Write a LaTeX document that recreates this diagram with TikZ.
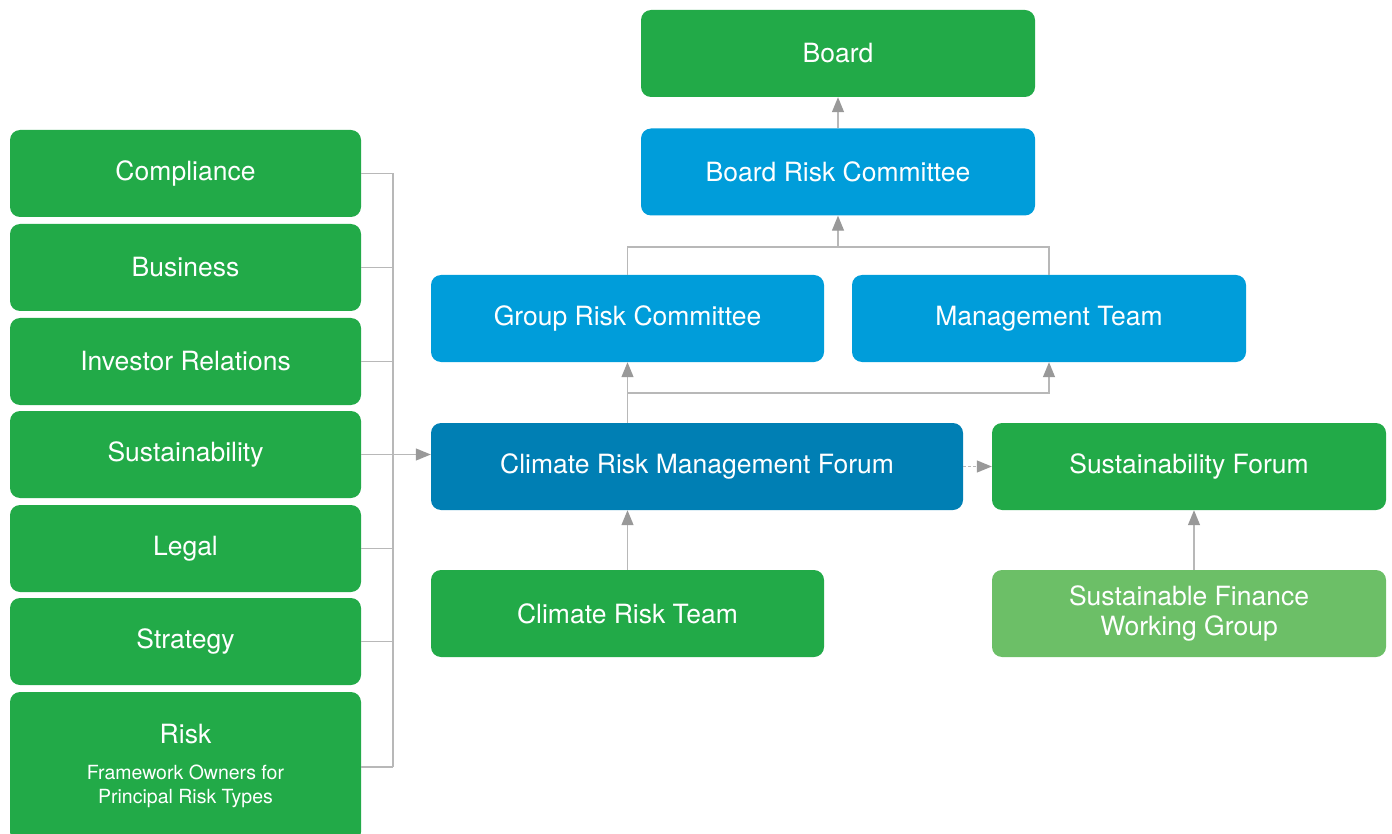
\documentclass[tikz,border=0pt]{standalone}
\usepackage{fontspec}
\setmainfont{TeX Gyre Heros}
\usetikzlibrary{arrows.meta}

\definecolor{boxgreen}{HTML}{22AA48}
\definecolor{boxlightgreen}{HTML}{6CBF67}
\definecolor{boxblue}{HTML}{009DDA}
\definecolor{boxdarkblue}{HTML}{007FB4}
\definecolor{linegray}{HTML}{B8B8B8}
\definecolor{tipgray}{HTML}{999999}

\begin{document}
\begin{tikzpicture}[x=1pt,y=-1pt,
    box/.style={rounded corners=10pt, text=white, inner sep=0pt,
        minimum height=87pt, align=center,
        font=\fontsize{26.5}{30}\selectfont},
    link/.style={draw=linegray, line width=1.3pt},
    arrow/.style={link, -{Triangle[length=15pt,width=12pt,color=tipgray]}}]
    \useasboundingbox (0,0) rectangle (1392,834);

    % top of the chain
    \node[box, fill=boxgreen, minimum width=394pt] (board) at (838,53.5) {Board};
    \node[box, fill=boxblue, minimum width=394pt] (brc) at (838,172) {Board Risk Committee};

    % committees
    \node[box, fill=boxblue, minimum width=393pt] (grc) at (627.5,318.5) {Group Risk Committee};
    \node[box, fill=boxblue, minimum width=394pt] (mgmt) at (1049,318.5) {Management Team};

    % forums
    \node[box, fill=boxdarkblue, minimum width=532pt] (crmf) at (697,466.5) {Climate Risk Management Forum};
    \node[box, fill=boxgreen, minimum width=394pt] (sf) at (1189,466.5) {Sustainability Forum};

    % teams
    \node[box, fill=boxgreen, minimum width=393pt] (crt) at (627.5,613.5) {Climate Risk Team};
    \node[box, fill=boxlightgreen, minimum width=394pt] (sfwg) at (1189,613.5) {Sustainable Finance\\Working Group};

    % left column
    \node[box, fill=boxgreen, minimum width=351pt] (comp) at (185.5,173.5) {Compliance};
    \node[box, fill=boxgreen, minimum width=351pt] (bus) at (185.5,267.5) {Business};
    \node[box, fill=boxgreen, minimum width=351pt] (inv) at (185.5,361.5) {Investor Relations};
    \node[box, fill=boxgreen, minimum width=351pt] (sust) at (185.5,454.5) {Sustainability};
    \node[box, fill=boxgreen, minimum width=351pt] (legal) at (185.5,548.5) {Legal};
    \node[box, fill=boxgreen, minimum width=351pt] (strat) at (185.5,641.5) {Strategy};
    \node[box, fill=boxgreen, minimum width=351pt, minimum height=150pt] (risk) at (185.5,767) {};
    \node[text=white, font=\fontsize{26.5}{30}\selectfont] (risktitle) at (185.5,734) {Risk};
    \node[text=white, align=center, font=\fontsize{19.5}{24}\selectfont] (risknote) at (185.5,786)
        {Framework Owners for\\Principal Risk Types};

    % join points
    \coordinate (upjoin) at (838,247);
    \coordinate (midjoin) at (627.5,393);
    \coordinate (bracket) at (393,0);

    % connectors in the chain
    \draw[arrow] (brc.north) -- (board.south);
    \draw[link] (grc.north) |- (upjoin) -| (mgmt.north);
    \draw[arrow] (upjoin) -- (brc.south);
    \draw[arrow] (grc.south |- crmf.north) -- (grc.south);
    \draw[arrow] (midjoin) -| (mgmt.south);
    \draw[arrow, dash pattern=on 3pt off 2pt] (crmf.east) -- (sf.west);
    \draw[arrow] (crt.north) -- (crt.north |- crmf.south);
    \draw[arrow] ([xshift=5pt]sfwg.north) -- ([xshift=5pt]sf.south);

    % bracket of the left column
    \foreach \n in {comp,bus,inv,sust,legal,strat,risk}
        \draw[link] (\n.east) -- (\n.east -| bracket);
    \draw[link] (comp.east -| bracket) -- (risk.east -| bracket);
    \draw[arrow] (sust.east -| bracket) -- (sust.east -| crmf.west);
\end{tikzpicture}
\end{document}
